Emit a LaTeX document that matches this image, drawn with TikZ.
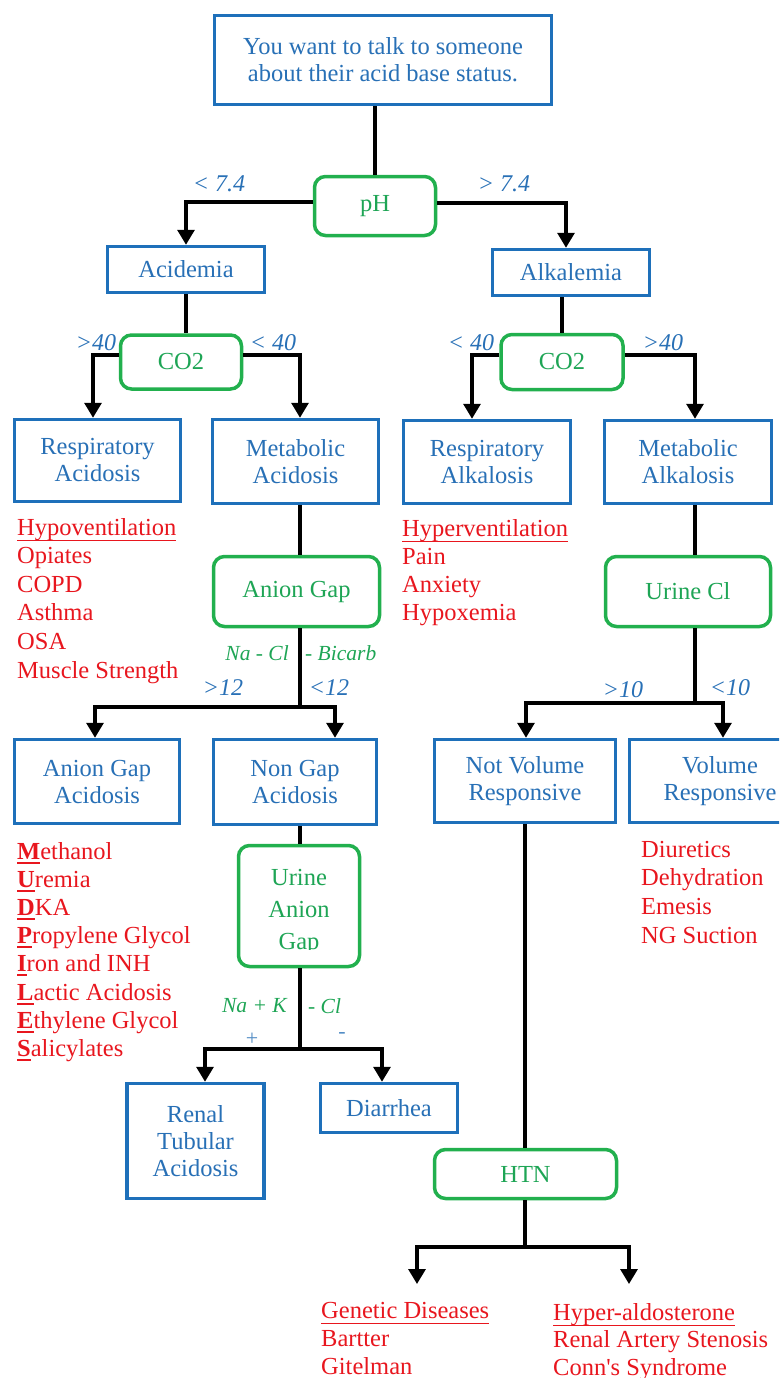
\documentclass[tikz,border=0pt]{standalone}
\usepackage{fontspec}
\setmainfont{Liberation Serif}
\usetikzlibrary{arrows.meta}
\definecolor{boxblue}{RGB}{30,112,186}
\definecolor{txtblue}{RGB}{40,112,182}
\definecolor{boxgreen}{RGB}{34,176,78}
\definecolor{txtgreen}{RGB}{30,165,85}
\definecolor{listred}{RGB}{232,22,30}
% underline with adjustable depth and thickness
\newcommand\ulbar[3]{\leavevmode\setbox0\hbox{#3}\rlap{\rule[-#1]{\wd0}{#2}}\box0}
\newcommand\keyletter[1]{\ulbar{4.5pt}{2pt}{\textbf{#1}}}
\begin{document}
\begin{tikzpicture}[x=1pt,y=-1pt,
  bluebox/.style={draw=boxblue, line width=3.5pt, fill=white, text=txtblue,
    align=center, font=\fontsize{24.5}{27}\selectfont, inner sep=0pt},
  greenbox/.style={draw=boxgreen, line width=3.5pt, rounded corners=11pt, fill=white,
    text=txtgreen, align=center, font=\fontsize{24.5}{27}\selectfont, inner sep=0pt},
  link/.style={line width=3.2pt, draw=black},
  arr/.style={link, -{Triangle[width=17pt,length=15pt]}},
  cond/.style={text=txtblue, font=\fontsize{24}{26}\selectfont\itshape, inner sep=0pt},
  formula/.style={text=txtgreen, font=\fontsize{21.5}{24}\selectfont\itshape, inner sep=0pt},
  cause/.style={text=listred, font=\fontsize{24.5}{28}\selectfont, inner sep=0pt, anchor=base west},
]
\useasboundingbox (0,0) rectangle (779,1378);
\clip (0,0) rectangle (779,1378);

% ---------- decision boxes ----------
\node[bluebox, minimum width=337, minimum height=89] (top) at (383,60)
  {You want to talk to someone\\about their acid base status.};
\node[greenbox, minimum width=121, minimum height=59] (ph) at (375,206) {pH};
\node[bluebox, minimum width=157, minimum height=46] (acid) at (186,269.5) {Acidemia};
\node[bluebox, minimum width=157, minimum height=46] (alk) at (571,272.5) {Alkalemia};
\node[greenbox, minimum width=121, minimum height=54] (co2L) at (181,362) {CO2};
\node[greenbox, minimum width=122, minimum height=55] (co2R) at (562,362) {CO2};
\node[bluebox, minimum width=166, minimum height=82] (respA) at (97.5,460.5) {Respiratory\\Acidosis};
\node[bluebox, minimum width=166, minimum height=84] (metA) at (295.5,461.5) {Metabolic\\Acidosis};
\node[bluebox, minimum width=167, minimum height=83] (respAlk) at (487,462) {Respiratory\\Alkalosis};
\node[bluebox, minimum width=167, minimum height=83] (metAlk) at (688,462) {Metabolic\\Alkalosis};
\node[greenbox, minimum width=166, minimum height=70] (agap) at (296.5,591.5) {Anion Gap};
\node[greenbox, minimum width=165, minimum height=70] (ucl) at (688,591.5) {Urine Cl};
\node[bluebox, minimum width=165, minimum height=84] (agAcid) at (97,781.5) {Anion Gap\\Acidosis};
\node[bluebox, minimum width=163, minimum height=85] (ngAcid) at (295,782) {Non Gap\\Acidosis};
\node[bluebox, minimum width=181, minimum height=83] (nvr) at (525,781) {Not Volume\\Responsive};
\node[bluebox, minimum width=181, minimum height=83] (vr) at (720,781) {Volume\\Responsive};
\node[greenbox, minimum width=121, minimum height=121] (uag) at (299,906) {};
\begin{scope}
  \clip (237,844) rectangle (361,949);
  \node[text=txtgreen, align=center, inner sep=0pt, anchor=north,
    font=\fontsize{24.5}{32}\selectfont] (uagtext) at (299,869.5) {Urine\\Anion\\Gap};
\end{scope}
\node[bluebox, minimum width=137, minimum height=115] (rta) at (195.5,1141) {Renal\\Tubular\\Acidosis};
\node[bluebox, minimum width=137, minimum height=49] (diar) at (389,1108) {Diarrhea};
\node[greenbox, minimum width=182, minimum height=49] (htn) at (525.5,1174) {HTN};

% ---------- junctions and free ends ----------
\coordinate (j1) at (300,707);
\coordinate (j2) at (300,1049);
\coordinate (j3) at (695,703);
\coordinate (j4) at (525,1247);
\coordinate (g1) at (417,1284);
\coordinate (g2) at (629,1284);

% ---------- connectors ----------
\draw[link] (ph.north |- top.south) -- (ph.north);
\draw[arr] ([yshift=4pt]ph.west) -| (acid.north);
\draw[arr] ([yshift=3pt]ph.east) -| ([xshift=-5pt]alk.north);
\draw[link] (acid.south) -- (acid.south |- co2L.north);
\draw[arr] ([yshift=7pt]co2L.west) -| ([xshift=-4.5pt]respA.north);
\draw[arr] ([yshift=7pt]co2L.east) -| ([xshift=4.5pt]metA.north);
\draw[link] (co2R.north |- alk.south) -- (co2R.north);
\draw[arr] ([yshift=7pt]co2R.west) -| ([xshift=-15pt]respAlk.north);
\draw[arr] ([yshift=7pt]co2R.east) -| ([xshift=7pt]metAlk.north);
\draw[link] ([xshift=4.5pt]metA.south) -- ([xshift=4.5pt]metA.south |- agap.north);
\draw[link] (j1 |- agap.south) -- (j1);
\draw[arr] (j1) -| ([xshift=-2pt]agAcid.north);
\draw[arr] (j1) -| ([xshift=40pt]ngAcid.north);
\draw[link] ([xshift=5pt]ngAcid.south) -- ([xshift=5pt]ngAcid.south |- uag.north);
\draw[link] (j2 |- uag.south) -- (j2);
\draw[arr] (j2) -| ([xshift=9.5pt]rta.north);
\draw[arr] (j2) -| ([xshift=-7pt]diar.north);
\draw[link] ([xshift=7pt]metAlk.south) -- ([xshift=7pt]metAlk.south |- ucl.north);
\draw[link] (j3 |- ucl.south) -- (j3);
\draw[arr] (j3) -| ([xshift=1pt]nvr.north);
\draw[arr] (j3) -| ([xshift=3pt]vr.north);
\draw[link] (nvr.south) -- (nvr.south |- htn.north);
\draw[link] (j4 |- htn.south) -- (j4);
\draw[arr] (j4) -| (g1);
\draw[arr] (j4) -| (g2);

% ---------- branch conditions ----------
\node[cond] (lt74) at (219,184) {< 7.4};
\node[cond] (gt74) at (504,184) {> 7.4};
\node[cond] (gt40a) at (96,343) {>40};
\node[cond] (lt40a) at (273,343) {< 40};
\node[cond] (lt40b) at (471,343) {< 40};
\node[cond] (gt40b) at (663,343) {>40};
\node[cond] (gt12) at (223,688) {>12};
\node[cond] (lt12) at (329,688) {<12};
\node[cond] (gt10) at (623,690) {>10};
\node[cond] (lt10) at (730,688) {<10};
\node[cond, font=\fontsize{22}{24}\selectfont, text=txtblue!80] (plus) at (252,1039) {+};
\node[cond, font=\fontsize{22}{24}\selectfont, text=txtblue!80] (minus) at (342,1035) {-};

% ---------- formulas ----------
\node[formula, anchor=east] (nacl) at (289,653) {Na - Cl};
\node[formula, anchor=west] (bicarb) at (305,653) {- Bicarb};
\node[formula, anchor=east] (nak) at (287,1006) {Na + K};
\node[formula, anchor=west] (cl) at (308,1006) {- Cl};

% ---------- causes ----------
\foreach \t [count=\i] in {{\ulbar{6pt}{1.2pt}{Hypoventilation}},Opiates,COPD,Asthma,OSA,Muscle Strength}
  \node[cause] (ra\i) at (17,{535+(\i-1)*28.6}) {\t};
\foreach \t [count=\i] in {{\ulbar{6pt}{1.2pt}{Hyperventilation}},Pain,Anxiety,Hypoxemia}
  \node[cause] (ral\i) at (402,{536+(\i-1)*28.2}) {\t};
\foreach \t [count=\i] in {{\keyletter{M}ethanol},{\keyletter{U}remia},{\keyletter{D}KA},
    {\keyletter{P}ropylene Glycol},{\keyletter{I}ron and INH},{\keyletter{L}actic Acidosis},
    {\keyletter{E}thylene Glycol},{\keyletter{S}alicylates}}
  \node[cause] (mud\i) at (17,{859+(\i-1)*28.2}) {\t};
\foreach \t [count=\i] in {Diuretics,Dehydration,Emesis,NG Suction}
  \node[cause] (vrc\i) at (641,{857+(\i-1)*28.7}) {\t};
\foreach \t [count=\i] in {{\ulbar{6pt}{1.2pt}{Genetic Diseases}},Bartter,Gitelman}
  \node[cause] (gen\i) at (321,{1318+(\i-1)*28}) {\t};
\foreach \t [count=\i] in {{\ulbar{6pt}{1.2pt}{Hyper-aldosterone}},Renal Artery Stenosis,{Conn\textquotesingle s Syndrome}}
  \node[cause] (hal\i) at (553,{1320+(\i-1)*27.7}) {\t};
\end{tikzpicture}
\end{document}
